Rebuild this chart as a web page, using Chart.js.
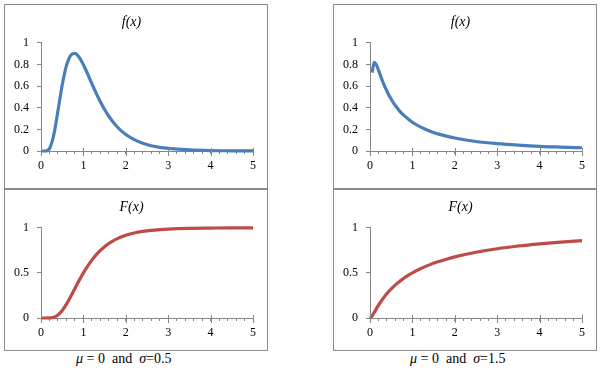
<!DOCTYPE html>
<html>
<head>
<meta charset="utf-8">
<script src="https://cdn.jsdelivr.net/npm/chart.js@4/dist/chart.umd.min.js"></script>
<style>
  body { margin: 0; background: #fff; width: 600px; height: 371px; position: relative; overflow: hidden; }
  .box { position: absolute; border: 1px solid #8c8c8c; box-sizing: border-box; background: #fff; }
  .box canvas { display: block; }
  .cap { position: absolute; font-family: 'Liberation Serif', 'Times New Roman', serif; font-size: 14px; white-space: pre; color: #000; }
  .cap i { font-style: italic; }
</style>
</head>
<body>
<div class="box" style="left:4px;top:4px;width:264px;height:185px"><canvas id="pdfA" width="262" height="183"></canvas></div>
<div class="box" style="left:4px;top:189px;width:264px;height:162px"><canvas id="cdfA" width="262" height="160"></canvas></div>
<div class="box" style="left:333px;top:4px;width:264px;height:185px"><canvas id="pdfB" width="262" height="183"></canvas></div>
<div class="box" style="left:333px;top:189px;width:264px;height:162px"><canvas id="cdfB" width="262" height="160"></canvas></div>
<div class="cap" style="left:76px;top:351px"><i>μ</i> = 0  and  <i>σ</i>=0.5</div>
<div class="cap" style="left:410px;top:351px"><i>μ</i> = 0  and  <i>σ</i>=1.5</div>
<script>
// values (mu = 0, sigma = 0.5 on the left, sigma = 1.5 on the right)
const xA = [0, 0.1, 0.2, 0.3, 0.4, 0.5, 0.6, 0.7, 0.8, 0.9, 1.0, 1.1, 1.2, 1.3, 1.4, 1.5, 1.6, 1.7, 1.8, 1.9, 2.0, 2.2, 2.4, 2.6, 2.8, 3.0, 3.5, 4.0, 4.5, 5.0];
const pdfA = [0, 0.0002, 0.022, 0.146, 0.372, 0.61, 0.789, 0.884, 0.903, 0.867, 0.798, 0.712, 0.622, 0.535, 0.455, 0.383, 0.321, 0.267, 0.222, 0.184, 0.153, 0.105, 0.072, 0.049, 0.034, 0.024, 0.01, 0.004, 0.002, 0.001];
const cdfA = [0, 0, 0.0006, 0.008, 0.034, 0.083, 0.154, 0.238, 0.328, 0.417, 0.5, 0.575, 0.642, 0.7, 0.75, 0.791, 0.826, 0.856, 0.88, 0.9, 0.917, 0.943, 0.96, 0.972, 0.98, 0.986, 0.994, 0.997, 0.999, 0.999];

const xB = [0.05, 0.1, 0.15, 0.2, 0.3, 0.4, 0.5, 0.6, 0.7, 0.8, 0.9, 1.0, 1.2, 1.4, 1.6, 1.8, 2.0, 2.5, 3.0, 3.5, 4.0, 4.5, 5.0];
const pdfB = [0.724, 0.819, 0.797, 0.748, 0.642, 0.552, 0.478, 0.418, 0.369, 0.329, 0.295, 0.266, 0.22, 0.185, 0.158, 0.137, 0.12, 0.088, 0.068, 0.054, 0.043, 0.036, 0.03];
const xBc = [0, 0.05, 0.1, 0.2, 0.3, 0.4, 0.5, 0.6, 0.7, 0.8, 0.9, 1.0, 1.2, 1.4, 1.6, 1.8, 2.0, 2.5, 3.0, 3.5, 4.0, 4.5, 5.0];
const cdfB = [0, 0.023, 0.062, 0.142, 0.211, 0.271, 0.322, 0.367, 0.406, 0.441, 0.472, 0.5, 0.548, 0.589, 0.623, 0.652, 0.678, 0.729, 0.768, 0.798, 0.822, 0.842, 0.858];

const pdfTicks = [0, 0.2, 0.4, 0.6, 0.8, 1];
const cdfTicks = [0, 0.5, 1];
const xLabels = [0, 1, 2, 3, 4, 5];

const BLUE = '#4a7ebb';
const RED = '#be4b48';
const AXIS = '#868686';
const FONT = "'Liberation Serif', 'Times New Roman', serif";

// Excel-style major ticks crossing the x axis
const majorTicks = {
  id: 'majorTicks',
  afterDraw(chart) {
    const sx = chart.scales.x, ctx = chart.ctx;
    ctx.save();
    ctx.strokeStyle = AXIS;
    ctx.lineWidth = 1;
    xLabels.forEach(v => {
      const px = Math.round(sx.getPixelForValue(v)) + 0.5;
      ctx.beginPath();
      ctx.moveTo(px, sx.top - 3);
      ctx.lineTo(px, sx.top + 5);
      ctx.stroke();
    });
    ctx.restore();
  }
};

function makePanel(id, title, xs, ys, color, yTicks, bottomPad) {
  const pts = xs.map((x, i) => ({ x: x, y: ys[i] }));
  const step = yTicks[1] - yTicks[0];
  new Chart(document.getElementById(id), {
    type: 'line',
    data: { datasets: [{ data: pts, borderColor: color, borderWidth: 3.2, pointRadius: 0, cubicInterpolationMode: 'monotone', clip: 4 }] },
    options: {
      responsive: false,
      animation: false,
      layout: { padding: { left: 5, right: 14, bottom: bottomPad, top: 0 } },
      plugins: {
        legend: { display: false },
        tooltip: { enabled: false },
        title: { display: true, text: title, color: '#000', font: { family: FONT, size: 14, style: 'italic', weight: 'normal' }, padding: { top: 9, bottom: 12 } }
      },
      scales: {
        x: {
          type: 'linear', min: 0, max: 5,
          border: { color: AXIS, width: 1 },
          grid: { drawOnChartArea: false, color: AXIS, tickLength: 3 },
          ticks: {
            stepSize: 0.2, autoSkip: false, maxRotation: 0, padding: 5, color: '#000',
            font: { family: FONT, size: 12 },
            callback: v => { const r = Math.round(v * 1000) / 1000; return Number.isInteger(r) ? String(r) : ''; }
          },
          afterFit: s => { s.height = 22; }
        },
        y: {
          min: 0, max: 1,
          border: { color: AXIS, width: 1 },
          grid: { drawOnChartArea: false, color: AXIS, tickLength: 4 },
          ticks: { stepSize: step, padding: 8, color: '#000', font: { family: FONT, size: 12 }, callback: v => String(+v.toFixed(2)) },
          afterFit: s => { s.width = 31; }
        }
      }
    },
    plugins: [majorTicks]
  });
}

function drawAll() {
  makePanel('pdfA', 'f(x)', xA, pdfA, BLUE, pdfTicks, 15);
  makePanel('cdfA', 'F(x)', xA, cdfA, RED, cdfTicks, 10);
  makePanel('pdfB', 'f(x)', xB, pdfB, BLUE, pdfTicks, 15);
  makePanel('cdfB', 'F(x)', xBc, cdfB, RED, cdfTicks, 10);
}

// make sure the serif face is ready before the canvases are drawn
Promise.all([
  document.fonts.load("12px 'Liberation Serif'"),
  document.fonts.load("italic 14px 'Liberation Serif'")
]).then(drawAll, drawAll);
</script>
</body>
</html>
